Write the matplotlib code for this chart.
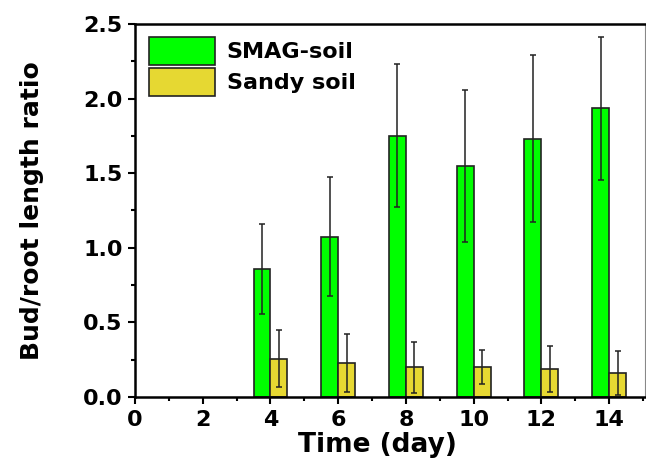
import matplotlib
matplotlib.use("Agg")
import matplotlib.pyplot as plt
from matplotlib.ticker import MultipleLocator
import numpy as np

plt.rcParams['font.family'] = ['DejaVu Sans']
plt.rcParams['font.weight'] = 'bold'

days = [4, 6, 8, 10, 12, 14]
smag = [0.856, 1.074, 1.75, 1.548, 1.731, 1.935]
smag_err = [0.30, 0.40, 0.48, 0.51, 0.56, 0.48]
sandy = [0.257, 0.226, 0.199, 0.199, 0.188, 0.161]
sandy_err = [0.19, 0.195, 0.17, 0.115, 0.155, 0.145]
xticks = [0, 2, 4, 6, 8, 10, 12, 14]
yticks = [0.0, 0.5, 1.0, 1.5, 2.0, 2.5]

fig = plt.figure(figsize=(6.46, 4.59), dpi=100)
ax = fig.add_axes([0.209, 0.135, 0.7895, 0.813])

d = np.array(days, dtype=float)
w = 0.5
ekw = dict(ecolor='#222222', elinewidth=1.1, capsize=2.5, capthick=1.1)
ax.bar(d - w / 2, smag, w, color='#00FF00', edgecolor='#222222', linewidth=1.2,
       yerr=smag_err, error_kw=ekw, label='SMAG-soil', zorder=2)
ax.bar(d + w / 2, sandy, w, color='#E6D832', edgecolor='#222222', linewidth=1.2,
       yerr=sandy_err, error_kw=ekw, label='Sandy soil', zorder=2)

ax.set_xlim(0, 15.06)
ax.set_ylim(0, 2.5)
ax.set_xticks(xticks)
ax.set_yticks(yticks)
ax.set_yticklabels([f"{v:.1f}" for v in yticks])
ax.xaxis.set_minor_locator(MultipleLocator(1))
ax.yaxis.set_minor_locator(MultipleLocator(0.25))
ax.tick_params(which='major', direction='out', length=5, width=1.5, labelsize=16)
ax.tick_params(axis='x', which='major', pad=4)
ax.tick_params(axis='y', which='major', pad=4)
ax.tick_params(which='minor', direction='out', length=3, width=1.5)
ax.tick_params(top=False, right=False, which='both')

for s in ['left', 'bottom', 'top']:
    ax.spines[s].set_linewidth(1.8)
    ax.spines[s].set_color('black')
ax.spines['right'].set_linewidth(0.8)
ax.spines['right'].set_color('#888888')

ax.set_xlabel('Time (day)', fontsize=19, fontweight='bold')
ax.xaxis.set_label_coords(0.476, -0.093, transform=ax.transAxes)
ax.set_ylabel('Bud/root length ratio', fontsize=18, fontweight='bold', labelpad=28)

leg = ax.legend(loc='upper left', bbox_to_anchor=(0.027, 0.965), frameon=False,
                fontsize=16, handlelength=3.0, handleheight=1.6,
                handletextpad=0.5, labelspacing=0.1, borderpad=0, borderaxespad=0)
for t in leg.get_texts():
    t.set_fontweight('bold')

fig.savefig('out.png', dpi=100)
